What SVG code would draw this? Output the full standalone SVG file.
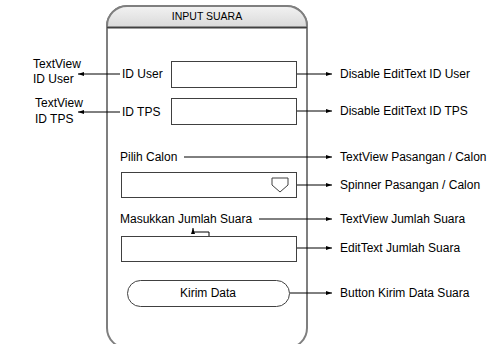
<svg xmlns="http://www.w3.org/2000/svg" width="494" height="344" viewBox="0 0 494 344">
<defs>
<linearGradient id="hdr" x1="0" y1="0" x2="0" y2="1">
<stop offset="0" stop-color="#f2f2f2"/>
<stop offset="1" stop-color="#d9d9d9"/>
</linearGradient>
<marker id="ah" viewBox="0 0 6 6" refX="6" refY="3" markerWidth="6" markerHeight="6" markerUnits="userSpaceOnUse" orient="auto">
<path d="M0,1 L6,3 L0,5 Z" fill="#000"/>
</marker>
</defs>
<style>
text{font-family:"Liberation Sans",Arial,sans-serif;font-size:12px;fill:#000}
.hd{font-size:10.5px}
.box{fill:#fff;stroke:#404040;stroke-width:1}
.ln{fill:none;stroke:#000;stroke-width:1;marker-end:url(#ah)}
</style>
<g id="phone">
<rect x="107" y="6" width="200" height="342" rx="20" fill="#fff" stroke="#7f7f7f" stroke-width="2"/>
<path d="M107,27.5 V26 A20,20 0 0 1 127,6 H287 A20,20 0 0 1 307,26 V27.5 Z" fill="url(#hdr)" stroke="#7f7f7f" stroke-width="2"/>
<line x1="107" y1="27.5" x2="307" y2="27.5" stroke="#404040" stroke-width="1.5"/>
<text class="hd" x="207" y="20" text-anchor="middle">INPUT SUARA</text>
</g>
<g id="connectors">
<line class="ln" x1="120" y1="74" x2="78" y2="74"/>
<line class="ln" x1="120" y1="112" x2="78" y2="112"/>
<line class="ln" x1="296" y1="74" x2="332" y2="74"/>
<line class="ln" x1="296" y1="111" x2="332" y2="111"/>
<line class="ln" x1="184" y1="157" x2="332" y2="157"/>
<line class="ln" x1="296" y1="185" x2="332" y2="185"/>
<line class="ln" x1="259" y1="219" x2="332" y2="219"/>
<line class="ln" x1="296" y1="248" x2="332" y2="248"/>
<line class="ln" x1="290" y1="293" x2="332" y2="293"/>
<path class="ln" d="M209,236 V232 H193 V228"/>
</g>
<g id="idUserLabel">
<text x="33" y="68">TextView</text>
<text x="33" y="83">ID User</text>
</g>
<g id="idTpsLabel">
<text x="35" y="107">TextView</text>
<text x="35" y="123">ID TPS</text>
</g>
<g id="idUser">
<text x="122" y="78">ID User</text>
<rect class="box" x="171.5" y="61.5" width="125" height="26"/>
</g>
<g id="idTps">
<text x="122" y="116">ID TPS</text>
<rect class="box" x="171.5" y="98.5" width="125" height="26"/>
</g>
<g id="pilihCalon">
<text x="120" y="161">Pilih Calon</text>
</g>
<g id="spinner">
<rect class="box" x="121.5" y="172.5" width="175" height="25"/>
<path d="M272,178 H288 V185 L280,192 L272,185 Z" fill="#fff" stroke="#404040" stroke-width="1"/>
</g>
<g id="masukkan">
<text x="120" y="223">Masukkan Jumlah Suara</text>
</g>
<g id="editJumlah">
<rect class="box" x="121.5" y="236.5" width="175" height="25"/>
</g>
<g id="kirim">
<rect class="box" x="127.5" y="280.5" width="162" height="26" rx="13"/>
<text x="208" y="297" text-anchor="middle">Kirim Data</text>
</g>
<g id="rightLabels">
<text x="340" y="78">Disable EditText ID User</text>
<text x="340" y="115">Disable EditText ID TPS</text>
<text x="340" y="161">TextView Pasangan / Calon</text>
<text x="340" y="189">Spinner Pasangan / Calon</text>
<text x="340" y="223">TextView Jumlah Suara</text>
<text x="340" y="252">EditText Jumlah Suara</text>
<text x="340" y="297">Button Kirim Data Suara</text>
</g>
</svg>
